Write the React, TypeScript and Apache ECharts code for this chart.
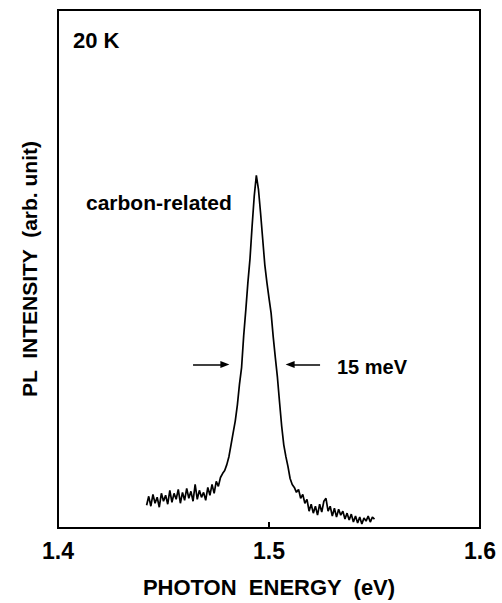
import React, { useEffect, useRef } from "react";
import * as echarts from "echarts";

// Photon energy grid (eV) and PL intensity (arb. unit)
const energyStart = 1.442;
const energyStep = 0.001;
const intensity = [
  23, 32, 22, 34, 25, 31, 21, 35, 27, 33,
  24, 38, 26, 35, 29, 39, 25, 36, 28, 40,
  30, 37, 27, 44, 29, 38, 31, 36, 28, 41,
  33, 44, 35, 47, 42, 51, 55, 58, 64, 72,
  84, 96, 108, 124, 145, 162, 194, 220, 248, 272,
  305, 335, 356, 342, 318, 292, 266, 248, 232, 217,
  193, 172, 152, 127, 103, 84, 72, 62, 50, 44,
  41, 36, 39, 30, 34, 25, 29, 17, 24, 15,
  22, 13, 24, 16, 27, 30, 17, 22, 12, 20,
  11, 19, 13, 17, 9, 15, 8, 14, 6, 12,
  5, 11, 4, 10, 7, 12, 6, 11, 9,
];
const xTicks = [1.4, 1.5, 1.6];
const fwhmLevel = 165;
const leftArrow = [1.464, 1.4791];
const rightArrow = [1.5242, 1.51];

const FONT = "'Liberation Sans', Arial, Helvetica, sans-serif";

export default function App() {
  const ref = useRef<HTMLDivElement>(null);
  useEffect(() => {
    if (!ref.current) return;
    const chart = echarts.init(ref.current, null, { renderer: "svg" });
    const data = intensity.map((v, i) => [
      +(energyStart + i * energyStep).toFixed(4),
      v,
    ]);
    chart.setOption({
      animation: false,
      backgroundColor: "#fff",
      grid: {
        left: 58,
        right: 22,
        top: 10,
        bottom: 70,
        show: true,
        borderColor: "#000",
        borderWidth: 2,
        backgroundColor: "transparent",
      },
      xAxis: {
        type: "value",
        min: xTicks[0],
        max: xTicks[xTicks.length - 1],
        interval: 0.1,
        name: "PHOTON  ENERGY  (eV)",
        nameLocation: "middle",
        nameGap: 48,
        nameTextStyle: {
          fontFamily: FONT,
          fontWeight: "bold",
          fontSize: 22,
          color: "#000",
        },
        axisLine: { show: false },
        axisTick: {
          show: true,
          inside: true,
          length: 6,
          lineStyle: { color: "#000", width: 2 },
        },
        splitLine: { show: false },
        axisLabel: {
          margin: 11,
          fontFamily: FONT,
          fontWeight: "bold",
          fontSize: 23,
          color: "#000",
          formatter: (v: number) => v.toFixed(1),
        },
      },
      yAxis: {
        type: "value",
        min: 0,
        max: 523,
        name: "PL  INTENSITY  (arb. unit)",
        nameLocation: "middle",
        nameRotate: 90,
        nameGap: 18,
        nameTextStyle: {
          fontFamily: FONT,
          fontWeight: "bold",
          fontSize: 21,
          color: "#000",
        },
        axisLine: { show: false },
        axisTick: { show: false },
        axisLabel: { show: false },
        splitLine: { show: false },
      },
      series: [
        {
          type: "line",
          data,
          showSymbol: false,
          symbol: "none",
          lineStyle: { color: "#000", width: 1.7 },
          markLine: {
            silent: true,
            symbol: ["none", "triangle"],
            symbolSize: [7, 9],
            label: { show: false },
            lineStyle: { color: "#000", width: 1.5, type: "solid" },
            data: [
              [
                { coord: [leftArrow[0], fwhmLevel] },
                { coord: [leftArrow[1], fwhmLevel] },
              ],
              [
                { coord: [rightArrow[0], fwhmLevel] },
                { coord: [rightArrow[1], fwhmLevel] },
              ],
            ],
          },
        },
      ],
      graphic: [
        {
          type: "text",
          left: 73,
          top: 29,
          style: {
            text: "20 K",
            fontFamily: FONT,
            fontWeight: "bold",
            fontSize: 22,
            fill: "#000",
          },
        },
        {
          type: "text",
          left: 86,
          top: 192,
          style: {
            text: "carbon-related",
            fontFamily: FONT,
            fontWeight: "bold",
            fontSize: 21,
            fill: "#000",
          },
        },
        {
          type: "text",
          left: 337,
          top: 357,
          style: {
            text: "15 meV",
            fontFamily: FONT,
            fontWeight: "bold",
            fontSize: 20,
            fill: "#000",
          },
        },
      ],
    });
    return () => chart.dispose();
  }, []);
  return (
    <div
      ref={ref}
      style={{ position: "absolute", left: 0, top: 0, width: 502, height: 603 }}
    />
  );
}
